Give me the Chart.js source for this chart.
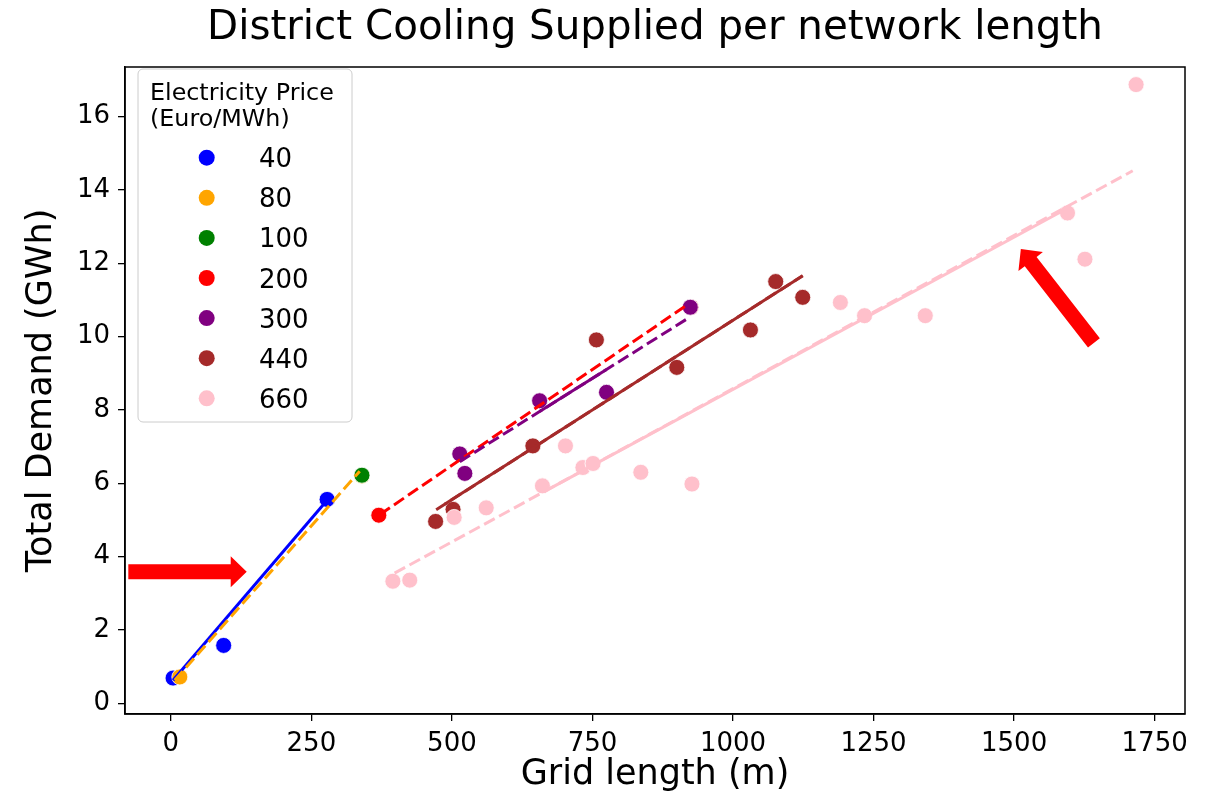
<!DOCTYPE html>
<html><head><meta charset="utf-8">
<script src="https://cdn.jsdelivr.net/npm/chart.js@4.4.1/dist/chart.umd.min.js"></script>
<style>html,body{margin:0;padding:0;background:#fff}</style>
</head><body>
<canvas id="c" width="1217" height="804" style="width:1217px;height:804px;display:block"></canvas>
<script>
// ---- data ----
const prices = ['40', '80', '100', '200', '300', '440', '660'];
const colors = ['#0000ff', '#ffa500', '#008000', '#ff0000', '#800080', '#a52a2a', '#ffc0cb'];

const len40 = [4, 94, 278];
const dem40 = [0.69, 1.58, 5.56];
const len80 = [16, 340];
const dem80 = [0.72, 6.2];
const len100 = [340];
const dem100 = [6.22];
const len200 = [370, 925];
const dem200 = [5.13, 10.8];
const len300 = [514, 523, 656, 775, 924];
const dem300 = [6.80, 6.27, 8.25, 8.48, 10.80];
const len440 = [471, 502, 644, 757, 900, 1031, 1076, 1124];
const dem440 = [4.96, 5.29, 7.02, 9.91, 9.16, 10.18, 11.50, 11.07];
const len660 = [395, 425, 504, 561, 661, 702, 733, 751, 836, 927, 1191, 1234, 1342, 1595, 1626, 1717];
const dem660 = [3.33, 3.36, 5.07, 5.33, 5.93, 7.02, 6.43, 6.54, 6.30, 5.98, 10.93, 10.57, 10.57, 13.37, 12.11, 16.87];

// fitted trend lines (end points)
const fit40X = [4, 278],    fit40Y = [0.63, 5.54];
const fit80X = [7, 336],    fit80Y = [0.63, 6.33];
const fit200X = [372, 919], fit200Y = [5.15, 10.87];
const fit300X = [514, 917], fit300Y = [6.59, 10.47];
const fit300sX = [656, 775], fit300sY = [7.96, 9.10];
const fit440X = [472, 1124], fit440Y = [5.28, 11.66];
const fit440sX = [487, 1124], fit440sY = [5.43, 11.66];
const fit660X = [398, 1711], fit660Y = [3.55, 14.52];
const fit660sX = [665, 1595], fit660sY = [5.78, 13.50];

// annotation arrows (data coordinates)
const arrowTailX = [-75.6, 1642];
const arrowTailY = [3.59, 9.83];
const arrowTipX = [135, 1512];
const arrowTipY = [3.59, 12.39];

const xTicks = [0, 250, 500, 750, 1000, 1250, 1500, 1750];
const yTicks = [0, 2, 4, 6, 8, 10, 12, 14, 16];

const FONT = '"DejaVu Sans", "Liberation Sans", sans-serif';

function pts(xs, ys) { return xs.map((x, i) => ({ x: x, y: ys[i] })); }

const pointSets = [[len40, dem40], [len80, dem80], [len100, dem100], [len200, dem200],
                   [len300, dem300], [len440, dem440], [len660, dem660]];

const datasets = [];
pointSets.forEach((s, i) => {
  datasets.push({
    label: prices[i], data: pts(s[0], s[1]),
    backgroundColor: colors[i], borderColor: '#ffffff', borderWidth: 0.8,
    pointRadius: 8, pointHoverRadius: 8, showLine: false, order: 30 - i
  });
});
function lineSet(xs, ys, ci, dashed, order) {
  return {
    label: 'fit', data: pts(xs, ys), showLine: true, borderColor: colors[ci],
    borderWidth: 3, borderDash: dashed ? [12, 5] : [], pointRadius: 0, pointHoverRadius: 0,
    backgroundColor: colors[ci], fill: false, order: order
  };
}
datasets.push(lineSet(fit40X, fit40Y, 0, false, 9));
datasets.push(lineSet(fit80X, fit80Y, 1, true, 8));
datasets.push(lineSet(fit200X, fit200Y, 3, true, 7));
datasets.push(lineSet(fit300X, fit300Y, 4, true, 6));
datasets.push(lineSet(fit300sX, fit300sY, 4, false, 5));
datasets.push(lineSet(fit440X, fit440Y, 5, true, 4));
datasets.push(lineSet(fit440sX, fit440sY, 5, false, 3));
datasets.push(lineSet(fit660X, fit660Y, 6, true, 2));
datasets.push(lineSet(fit660sX, fit660sY, 6, false, 1));

function drawArrow(ctx, x1, y1, x2, y2, shaftW, headW, headL) {
  const dx = x2 - x1, dy = y2 - y1, L = Math.hypot(dx, dy);
  const ux = dx / L, uy = dy / L, px = -uy, py = ux;
  const bx = x2 - ux * headL, by = y2 - uy * headL;
  ctx.beginPath();
  ctx.moveTo(x1 + px * shaftW / 2, y1 + py * shaftW / 2);
  ctx.lineTo(bx + px * shaftW / 2, by + py * shaftW / 2);
  ctx.lineTo(bx + px * headW / 2, by + py * headW / 2);
  ctx.lineTo(x2, y2);
  ctx.lineTo(bx - px * headW / 2, by - py * headW / 2);
  ctx.lineTo(bx - px * shaftW / 2, by - py * shaftW / 2);
  ctx.lineTo(x1 - px * shaftW / 2, y1 - py * shaftW / 2);
  ctx.closePath();
  ctx.fillStyle = '#ff0000';
  ctx.fill();
}

const decor = {
  id: 'decor',
  afterDatasetsDraw(chart) {
    const ctx = chart.ctx, a = chart.chartArea;
    const xs = chart.scales.x, ys = chart.scales.y;
    ctx.save();
    // legend box
    const lx = 138, ly = 69, lw = 214, lh = 353;
    ctx.beginPath();
    ctx.roundRect(lx, ly, lw, lh, 5);
    ctx.fillStyle = 'rgba(255,255,255,0.8)';
    ctx.fill();
    ctx.strokeStyle = '#cccccc';
    ctx.lineWidth = 1;
    ctx.stroke();
    ctx.fillStyle = '#000';
    ctx.textAlign = 'left';
    ctx.textBaseline = 'alphabetic';
    ctx.font = '23.8px ' + FONT;
    ctx.fillText('Electricity Price', 150, 99.5);
    ctx.fillText('(Euro/MWh)', 150, 126);
    ctx.font = '26px ' + FONT;
    prices.forEach((p, i) => {
      const cy = 157.7 + i * 40.1;
      ctx.beginPath();
      ctx.arc(206.7, cy, 8, 0, Math.PI * 2);
      ctx.fillStyle = colors[i];
      ctx.fill();
      ctx.fillStyle = '#000';
      ctx.fillText(p, 259, cy + 9.5);
    });
    // frame
    ctx.strokeStyle = '#000';
    ctx.lineWidth = 1.5;
    ctx.strokeRect(a.left, a.top, a.right - a.left, a.bottom - a.top);
    // arrows
    for (let i = 0; i < arrowTailX.length; i++) {
      drawArrow(ctx, xs.getPixelForValue(arrowTailX[i]), ys.getPixelForValue(arrowTailY[i]),
        xs.getPixelForValue(arrowTipX[i]), ys.getPixelForValue(arrowTipY[i]), 15, 31, 16);
    }
    // title
    ctx.fillStyle = '#000';
    ctx.font = '40.4px ' + FONT;
    ctx.textAlign = 'center';
    ctx.textBaseline = 'alphabetic';
    ctx.fillText('District Cooling Supplied per network length', (a.left + a.right) / 2, 39);
    ctx.restore();
  }
};

new Chart(document.getElementById('c'), {
  type: 'scatter',
  data: { datasets: datasets },
  options: {
    responsive: false,
    animation: false,
    devicePixelRatio: 1,
    layout: { padding: { left: 0, right: 32, top: 67, bottom: 0 } },
    plugins: { legend: { display: false }, tooltip: { enabled: false }, title: { display: false } },
    scales: {
      x: {
        type: 'linear', min: -81.5, max: 1804,
        afterFit(s) { s.height = 90; },
        afterBuildTicks(s) { s.ticks = xTicks.map(v => ({ value: v })); },
        ticks: { callback: v => String(v), color: '#000', font: { family: FONT, size: 26 }, padding: 8, autoSkip: false, maxRotation: 0 },
        grid: { display: true, drawOnChartArea: false, drawTicks: true, tickLength: 7, color: '#000', lineWidth: 1.3 },
        border: { display: true, color: '#000', width: 1.5 },
        title: { display: true, text: 'Grid length (m)', color: '#000', font: { family: FONT, size: 35 }, padding: { top: 0, bottom: 8 } }
      },
      y: {
        type: 'linear', min: -0.29, max: 17.35,
        afterFit(s) { s.width = 125; },
        afterBuildTicks(s) { s.ticks = yTicks.map(v => ({ value: v })); },
        ticks: { callback: v => String(v), color: '#000', font: { family: FONT, size: 26 }, padding: 8, autoSkip: false },
        grid: { display: true, drawOnChartArea: false, drawTicks: true, tickLength: 7, color: '#000', lineWidth: 1.3 },
        border: { display: true, color: '#000', width: 1.5 },
        title: { display: true, text: 'Total Demand (GWh)', color: '#000', font: { family: FONT, size: 35 }, padding: { top: 21, bottom: 0 } }
      }
    }
  },
  plugins: [decor]
});
</script>
</body></html>
